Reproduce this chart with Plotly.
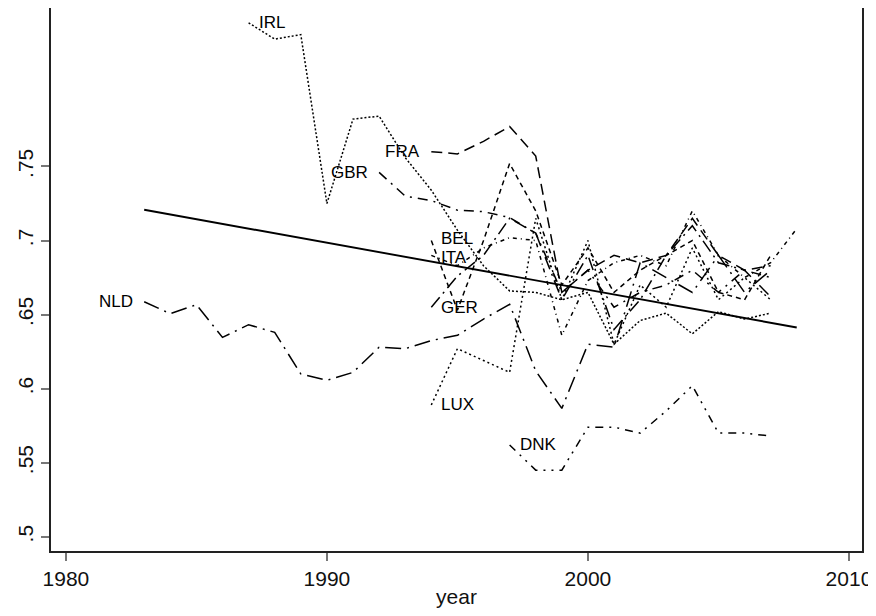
import plotly.graph_objects as go

# values
irl_years = list(range(1987, 2008))
irl = [.847, .836, .839, .725, .782, .784, .756, .734, .707, .683, .666, .665, .660, .665,
       .630, .646, .651, .637, .652, .647, .651]

gbr_years = list(range(1992, 2008))
gbr = [.746, .730, .727, .7205, .7195, .7155, .705, .665, .680, .655, .665, .670, .680,
       .665, .680, .675]

fra_years = list(range(1994, 2008))
fra = [.760, .7585, .767, .777, .757, .665, .680, .690, .685, .690, .715, .690, .680, .683]

bel_years = list(range(1994, 2008))
bel = [.700, .653, .700, .752, .720, .670, .695, .665, .680, .690, .700, .665, .660, .690]

ita_years = list(range(1994, 2009))
ita = [.690, .683, .695, .702, .700, .636, .673, .685, .690, .683, .720, .690, .675, .685, .708]

ger_years = list(range(1994, 2008))
ger = [.655, .676, .690, .715, .705, .660, .690, .640, .660, .690, .710, .685, .680, .662]

nld_years = list(range(1983, 2008))
nld = [.6587, .6506, .6567, .6346, .6432, .638, .610, .6056, .611, .628, .627, .6325, .636,
       .647, .657, .612, .5867, .630, .628, .685, .675, .665, .690, .665, .680]

lux_years = list(range(1994, 2008))
lux = [.589, .627, .619, .611, .715, .660, .700, .630, .670, .655, .695, .660, .675, .660]

dnk_years = list(range(1997, 2008))
dnk = [.562, .545, .545, .574, .574, .570, .585, .602, .570, .570, .568]

fit_years = [1983, 2008]
fit = [.7208, .6413]

x_ticks = [1980, 1990, 2000, 2010]
y_ticks = [.5, .55, .6, .65, .7, .75]
y_tick_labels = [".5", ".55", ".6", ".65", ".7", ".75"]

# name, years, values, dash pattern, label side, label vertical nudge
series = [
    ("IRL", irl_years, irl, "2px,2px", "right", 0),
    ("GBR", gbr_years, gbr, "10px,6px,2px,6px", "left", 0),
    ("FRA", fra_years, fra, "11px,6px", "left", 0),
    ("BEL", bel_years, bel, "5px,4px", "right", 2),
    ("ITA", ita_years, ita, "4px,4px,1px,4px", "right", -2),
    ("GER", ger_years, ger, "13px,5px,2px,5px", "right", 0),
    ("NLD", nld_years, nld, "16px,6px,2px,6px", "left", 0),
    ("LUX", lux_years, lux, "2px,3px", "right", 0),
    ("DNK", dnk_years, dnk, "8px,6px,2px,6px,2px,6px", "right", 0),
]

font = "Liberation Sans, Arial"

fig = go.Figure()

fig.add_trace(go.Scatter(x=fit_years, y=fit, mode="lines",
                         line=dict(color="black", width=1.9), showlegend=False))

for name, xs, ys, dash, side, nudge in series:
    fig.add_trace(go.Scatter(x=xs, y=ys, mode="lines", name=name,
                             line=dict(color="black", width=1.5, dash=dash),
                             showlegend=False))
    # label sits next to the first point of each country
    fig.add_annotation(x=xs[0], y=ys[0], text=name, showarrow=False,
                       xanchor="left" if side == "right" else "right",
                       xshift=8 if side == "right" else -9, yshift=nudge,
                       font=dict(family=font, size=17, color="black"))

fig.update_xaxes(
    range=[1979.43, 2010.5], tickvals=x_ticks, ticks="outside", ticklen=8,
    tickcolor="#777", tickwidth=1.5, showgrid=False, zeroline=False,
    showline=True, linecolor="#222", linewidth=1.5, mirror=True, automargin=False,
    ticklabeloverflow="allow",
    tickfont=dict(family=font, size=21, color="#111"),
    title=dict(text="year", standoff=2,
               font=dict(family=font, size=21, color="#111")),
)
fig.update_yaxes(
    range=[0.4904, 0.857], tickvals=y_ticks, ticktext=y_tick_labels, tickangle=-90,
    ticks="outside", ticklen=8, tickcolor="#777", tickwidth=1.5,
    showgrid=False, zeroline=False, automargin=False,
    showline=True, linecolor="#222", linewidth=1.5, mirror=True,
    tickfont=dict(family=font, size=21, color="#111"),
)

# the page adds an 8px body margin, so the figure is offset by that much
fig.update_layout(
    width=868, height=600,
    margin=dict(l=43, r=14, t=0, b=57),
    plot_bgcolor="white", paper_bgcolor="white",
)

fig.write_html("out.html")
